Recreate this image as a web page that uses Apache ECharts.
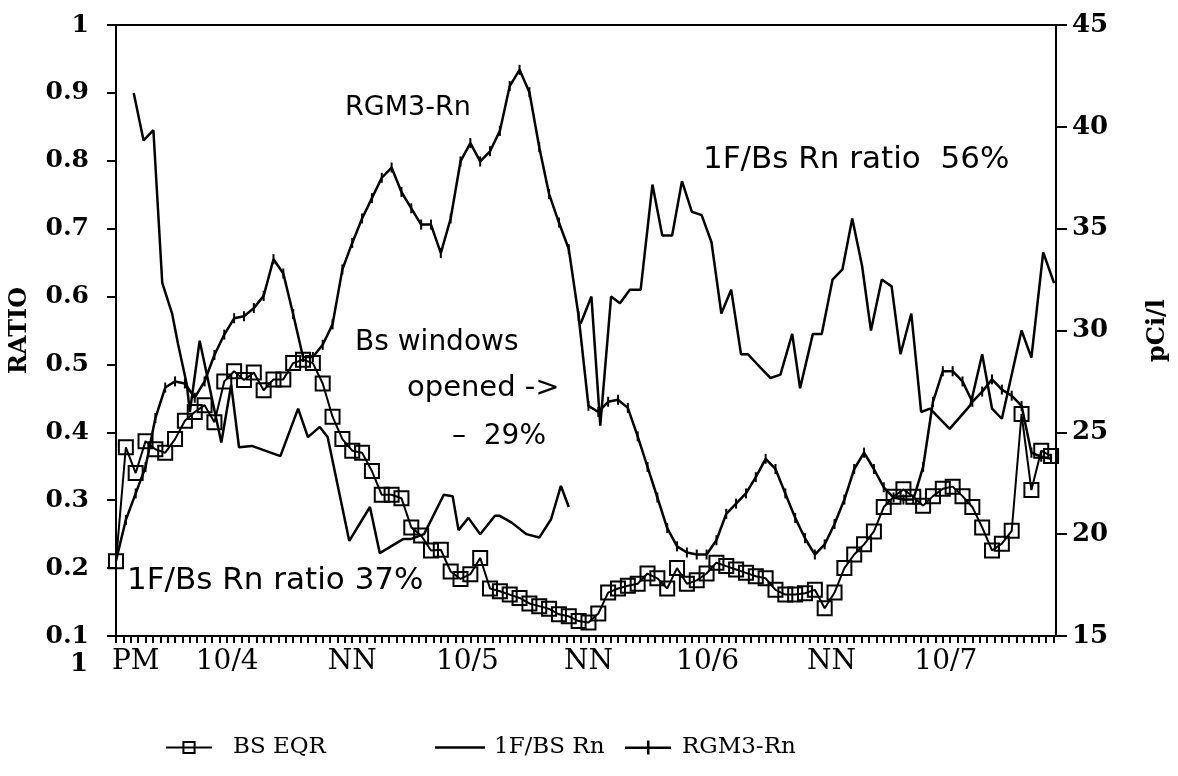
<!DOCTYPE html>
<html>
<head>
<meta charset="utf-8">
<title>Radon ratio</title>
<script src="https://cdn.jsdelivr.net/npm/echarts@6/dist/echarts.min.js"></script>
<style>
  html, body { margin: 0; padding: 0; background: #fff; }
  #chart { width: 1178px; height: 776px; }
</style>
</head>
<body>
<div id="chart"></div>
<script>
// region data
// x = hours after 1 PM on 10/3, one sample per hour for BS EQR and RGM3-Rn

const bsEqr = [
  0.21, 0.378, 0.34, 0.387, 0.375, 0.37, 0.39, 0.417, 0.43, 0.44,
  0.415, 0.475, 0.49, 0.477, 0.488, 0.462, 0.478, 0.478, 0.502, 0.507,
  0.502, 0.472, 0.423, 0.39, 0.373, 0.37, 0.343, 0.308, 0.308, 0.303,
  0.26, 0.248, 0.226, 0.227, 0.195, 0.184, 0.191, 0.215, 0.17, 0.166,
  0.161, 0.156, 0.148, 0.144, 0.14, 0.132, 0.129, 0.122, 0.12, 0.133,
  0.164, 0.17, 0.174, 0.177, 0.192, 0.185, 0.17, 0.2, 0.177, 0.182,
  0.192, 0.208, 0.203, 0.198, 0.193, 0.188, 0.185, 0.168, 0.161, 0.161,
  0.163, 0.168, 0.141, 0.164, 0.2, 0.22, 0.235, 0.254, 0.29, 0.305,
  0.316, 0.305, 0.292, 0.306, 0.317, 0.32, 0.306, 0.29, 0.26, 0.226,
  0.236, 0.255, 0.427, 0.315, 0.373, 0.365
]

// pCi/l, right axis
const rgm3Rn = [
  18.7, 20.7, 22.0, 23.3, 25.7, 27.2, 27.5, 27.4, 26.7, 27.5,
  28.8, 29.8, 30.6, 30.7, 31.1, 31.7, 33.5, 32.8, 30.8, 28.7,
  28.7, 29.3, 30.3, 33.0, 34.3, 35.5, 36.5, 37.5, 38.0, 36.8,
  36.0, 35.2, 35.2, 33.8, 35.5, 38.3, 39.2, 38.3, 38.8, 39.8,
  42.0, 42.8, 41.7, 39.0, 36.7, 35.3, 34.0, 30.7, 26.3, 26.0,
  26.5, 26.6, 26.2, 24.8, 23.3, 21.8, 20.3, 19.4, 19.1, 19.0,
  19.0, 19.7, 21.0, 21.5, 22.0, 22.8, 23.7, 23.2, 22.0, 20.8,
  19.8, 19.0, 19.5, 20.5, 21.7, 23.2, 24.0, 23.2, 22.3, 21.8,
  21.7, 21.7, 23.3, 26.5, 28.0, 28.0, 27.5, 26.5, 27.0, 27.6,
  27.1, 26.8, 26.3, 24.0, 23.8, 23.7
]

// 1F/BS Rn ratio, irregular samples (null = gap while windows opened)
const rnRatioHours = [
  1.8, 2.8, 3.8, 4.7, 5.7, 6.3, 7.2, 7.5, 8.5, 10.7,
  11.7, 12.5, 13.8, 16.7, 18.5, 19.5, 20.7, 21.5, 23.7, 25.8,
  26.8, 29.2, 30.0, 31.3, 33.3, 34.2, 34.8, 35.8, 37.0, 38.5,
  39.0, 40.2, 41.7, 43.0, 44.2, 45.2, 46.0, 46.6, 47.2, 48.3,
  49.2, 50.3, 51.2, 52.2, 53.3, 54.5, 55.5, 56.5, 57.5, 58.5,
  59.5, 60.5, 61.5, 62.5, 63.5, 64.2, 65.5, 66.5, 67.5, 68.7,
  69.5, 70.8, 71.7, 72.8, 73.8, 74.8, 75.8, 76.7, 77.8, 78.8,
  79.7, 80.8, 81.8, 82.7, 84.7, 86.8, 88.0, 89.0, 90.0, 92.0,
  93.0, 94.2, 95.3
]
const rnRatio = [
  0.90, 0.83, 0.845, 0.62, 0.575, 0.53, 0.47, 0.43, 0.535, 0.385,
  0.47, 0.378, 0.38, 0.365, 0.435, 0.393, 0.408, 0.393, 0.24, 0.29,
  0.222, 0.243, 0.243, 0.25, 0.308, 0.306, 0.256, 0.274, 0.25, 0.277,
  0.277, 0.267, 0.25, 0.245, 0.272, 0.321, 0.29, null, 0.56, 0.60,
  0.41, 0.60, 0.59, 0.61, 0.61, 0.765, 0.69, 0.69, 0.77, 0.725,
  0.72, 0.68, 0.575, 0.61, 0.515, 0.515, 0.495, 0.48, 0.485, 0.545,
  0.465, 0.545, 0.545, 0.625, 0.64, 0.715, 0.645, 0.55, 0.625, 0.615,
  0.515, 0.575, 0.43, 0.435, 0.405, 0.44, 0.515, 0.435, 0.42, 0.55,
  0.51, 0.665, 0.62
]

const timeLabels = ['PM', '10/4', 'NN', '10/5', 'NN', '10/6', 'NN', '10/7']
const timeLabelHours = [2, 11.3, 24, 35.7, 48, 60.1, 72.7, 84.3]

// endregion

const SERIF = '"DejaVu Serif", "Liberation Serif", serif'
const SANS = '"DejaVu Sans", "Liberation Sans", sans-serif'
const X_MAX = 95.5

// small ticks every 45 minutes along the time axis
const minorTicks = []
for (let t = 0; t <= X_MAX; t += 0.75) {
  minorTicks.push(t)
}

const chart = echarts.init(document.getElementById('chart'))

const legendText = {fontFamily: SERIF, fontSize: 23, color: '#000'}

const option = {
  backgroundColor: '#fff',
  animation: false,
  grid: {
    left: 107,
    right: 116,
    top: 25,
    bottom: 140,
    show: true,
    borderColor: '#000',
    borderWidth: 2
  },
  legend: [
    {
      data: ['BS EQR'],
      left: 160,
      top: 731,
      itemWidth: 46,
      itemHeight: 14,
      textStyle: Object.assign({padding: [0, 0, 0, 16]}, legendText)
    },
    {
      // plain line icon
      data: [{name: '1F/BS Rn', icon: 'rect'}],
      left: 430,
      top: 731,
      itemWidth: 50,
      itemHeight: 2.5,
      textStyle: Object.assign({padding: [0, 0, 0, 4]}, legendText)
    },
    {
      // line with a vertical tick
      data: [{name: 'RGM3-Rn', icon: 'path://M0,6 L46,6 L46,8.5 L0,8.5 Z M22,0 L24.5,0 L24.5,14 L22,14 Z'}],
      left: 620,
      top: 731,
      itemWidth: 46,
      itemHeight: 14,
      textStyle: Object.assign({padding: [0, 0, 0, 6]}, legendText)
    }
  ],
  xAxis: {
    type: 'value',
    min: 0,
    max: X_MAX,
    splitLine: {show: false},
    axisLine: {lineStyle: {color: '#000', width: 2}},
    axisTick: {
      customValues: minorTicks,
      length: 7,
      lineStyle: {color: '#000', width: 2}
    },
    axisLabel: {
      customValues: timeLabelHours,
      margin: 12,
      fontFamily: SERIF,
      fontSize: 28,
      color: '#000',
      formatter: function (v) {
        const i = timeLabelHours.findIndex(h => Math.abs(h - v) < 1e-6)
        return i >= 0 ? timeLabels[i] : ''
      }
    }
  },
  yAxis: [
    {
      type: 'value',
      min: 0.1,
      max: 1,
      interval: 0.1,
      name: 'RATIO',
      nameLocation: 'middle',
      nameRotate: 90,
      nameGap: 84,
      nameTextStyle: {fontFamily: SERIF, fontWeight: 'bold', fontSize: 24, color: '#000'},
      splitLine: {show: false},
      axisLine: {show: true, lineStyle: {color: '#000', width: 2}},
      axisTick: {show: true, length: 9, lineStyle: {color: '#000', width: 2}},
      axisLabel: {
        margin: 27,
        fontFamily: SERIF,
        fontWeight: 'bold',
        fontSize: 25,
        color: '#000',
        formatter: v => String(Math.round(v * 10) / 10)
      }
    },
    {
      type: 'value',
      min: 15,
      max: 45,
      interval: 5,
      position: 'right',
      name: 'pCi/l',
      nameLocation: 'middle',
      nameRotate: 90,
      nameGap: 90,
      nameTextStyle: {fontFamily: SERIF, fontWeight: 'bold', fontSize: 24, color: '#000'},
      splitLine: {show: false},
      axisLine: {show: true, lineStyle: {color: '#000', width: 2}},
      axisTick: {show: true, length: 11, lineStyle: {color: '#000', width: 2}},
      axisLabel: {
        margin: 16,
        fontFamily: SERIF,
        fontWeight: 'bold',
        fontSize: 26,
        color: '#000'
      }
    }
  ],
  series: [
    {
      name: 'BS EQR',
      type: 'line',
      yAxisIndex: 0,
      symbol: 'rect',
      symbolSize: 14,
      itemStyle: {color: 'rgba(0,0,0,0)', borderColor: '#000', borderWidth: 2},
      lineStyle: {color: '#000', width: 2},
      data: bsEqr.map((v, h) => [h, v]),
      z: 3
    },
    {
      name: '1F/BS Rn',
      type: 'line',
      yAxisIndex: 0,
      symbol: 'none',
      itemStyle: {color: '#000'},
      lineStyle: {color: '#000', width: 2.5},
      data: rnRatioHours.map((h, i) => [h, rnRatio[i]]),
      z: 2
    },
    {
      name: 'RGM3-Rn',
      type: 'line',
      yAxisIndex: 1,
      symbol: 'rect',
      symbolSize: [2, 10],
      itemStyle: {color: '#000'},
      lineStyle: {color: '#000', width: 2.5},
      data: rgm3Rn.map((v, h) => [h, v]),
      z: 2
    }
  ],
  graphic: [
    {type: 'text', x: 345, y: 108, style: {text: 'RGM3-Rn', font: '27px ' + SANS, fill: '#000', verticalAlign: 'middle'}},
    {type: 'text', x: 703, y: 160, style: {text: '1F/Bs Rn ratio  56%', font: '31px ' + SANS, fill: '#000', verticalAlign: 'middle'}},
    {type: 'text', x: 355, y: 343, style: {text: 'Bs windows', font: '28px ' + SANS, fill: '#000', verticalAlign: 'middle'}},
    {type: 'text', x: 407, y: 388, style: {text: 'opened ->', font: '29px ' + SANS, fill: '#000', verticalAlign: 'middle'}},
    {type: 'text', x: 452, y: 437, style: {text: '–  29%', font: '28px ' + SANS, fill: '#000', verticalAlign: 'middle'}},
    {type: 'text', x: 127, y: 581, style: {text: '1F/Bs Rn ratio 37%', font: '31px ' + SANS, fill: '#000', verticalAlign: 'middle'}},
    {type: 'text', x: 79, y: 664, style: {text: '1', font: 'bold 26px ' + SERIF, fill: '#000', align: 'center', verticalAlign: 'middle'}}
  ]
}

chart.setOption(option)
</script>
</body>
</html>
